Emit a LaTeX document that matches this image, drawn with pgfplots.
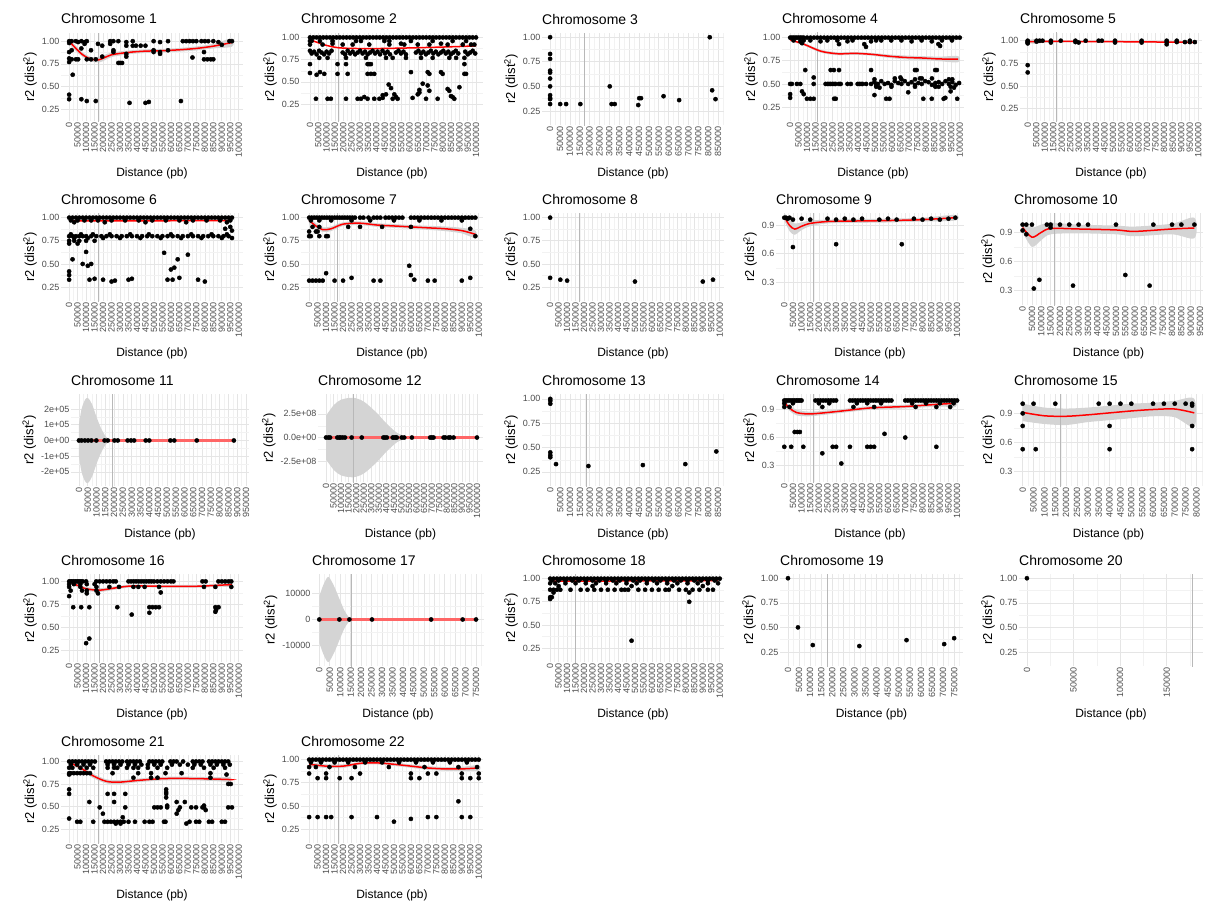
\documentclass[border=0pt]{standalone}
\usepackage{fontspec}
\setmainfont{Liberation Sans}
\usepackage{pgfplots}
\pgfplotsset{compat=1.18}

\newcommand\tickfont{\fontsize{9}{10}\selectfont}
\newcommand\labfont{\fontsize{12}{14}\selectfont}
\newcommand\ylabfont{\fontsize{13}{15}\selectfont}
\newcommand\chrtitle[1]{{\fontsize{14}{16}\selectfont Chromosome #1}}

\pgfplotsset{
  chr/.style={
    scale only axis, anchor=north west,
    width=182pt,
    axis line style={draw=none},
    tick style={draw=none},
    grid=both,
    major grid style={draw=black!10, line width=0.6pt},
    minor grid style={draw=black!5, line width=0.4pt},
    minor x tick num=1, minor y tick num=1,
    xtick={0,50000,100000,150000,200000,250000,300000,350000,400000,450000,500000,550000,600000,650000,700000,750000,800000,850000,900000,950000,1000000},
    scaled x ticks=false, scaled y ticks=false,
    x tick label style={rotate=90, anchor=east, font=\tickfont, text=black!70, inner sep=1.5pt,
      /pgf/number format/.cd, fixed, precision=0, 1000 sep={}, assume math mode=true},
    y tick label style={font=\tickfont, text=black!70, inner sep=1.5pt},
    every axis title shift=0pt,
    title style={at={(axis description cs:0,1)}, anchor=base west, inner sep=0pt, yshift=9pt},
    xlabel={Distance (pb)},
    ylabel={r2 (dist\textsuperscript{2})},
    xlabel style={at={(axis description cs:0.5,0)}, anchor=center, font=\labfont},
    ylabel style={font=\ylabfont},
  },
  h88/.style={height=88pt, xlabel style={yshift=-52pt}},
  h92/.style={height=92pt, xlabel style={yshift=-48pt}},
  std/.style={ytick={0.25,0.5,0.75,1}, yticklabels={0.25,0.50,0.75,1.00}},
  nine/.style={ytick={0.3,0.6,0.9}, yticklabels={0.3,0.6,0.9}},
  pts/.style={only marks, mark=*, mark size=2.1pt, black},
  fit/.style={red, line width=1.5pt, smooth, no marks},
  fitflat/.style={red!60, line width=2.4pt, no marks},
  band/.style={fill=black!17, draw=none, smooth, no marks},
  vl/.style={black!28, line width=0.8pt, no marks},
}

\begin{document}
\begin{tikzpicture}
\useasboundingbox (0,0) rectangle (1213pt,-902pt);

% ---------------- row 1 ----------------
\begin{axis}[chr, h88, std, at={(61pt,-33pt)}, xmin=-48000, xmax=1025000, ymin=0.12, ymax=1.09, title={\chrtitle{1}}]
\addplot[band] coordinates {(0,1.035)(40000,0.95)(80000,0.875)(130000,0.825)(176000,0.825)(210000,0.85)(250000,0.875)(300000,0.888)(370000,0.90)(450000,0.91)(550000,0.915)(650000,0.925)(750000,0.942)(850000,0.97)(960000,1.03)
 (960000,0.94)(850000,0.92)(750000,0.898)(650000,0.885)(550000,0.875)(450000,0.87)(370000,0.86)(300000,0.842)(250000,0.825)(210000,0.79)(176000,0.765)(130000,0.775)(80000,0.825)(40000,0.89)(0,0.965)};
\addplot[vl] coordinates {(172000,-1)(172000,2)};
\addplot[pts] coordinates {(0,1.0)(0,0.98)(0,0.88)(0,0.81)(0,0.77)(0,0.41)(0,0.36)(15000,1.0)(15000,0.90)(15000,0.80)(21000,0.63)(40000,1.0)(40000,0.80)(53000,0.99)(53000,0.80)(72000,1.0)(72000,0.92)(72000,0.36)(91000,0.99)(91000,0.97)(104000,1.0)(104000,0.80)(104000,0.34)(129000,0.90)(129000,0.80)(157000,0.80)(157000,0.34)(170000,0.97)(195000,0.95)(195000,0.83)(242000,1.0)(242000,0.97)(261000,1.0)(261000,0.90)(261000,0.88)(290000,1.0)(290000,0.76)(300000,0.76)(312000,0.76)(337000,0.99)(337000,0.95)(337000,0.86)(337000,0.83)(356000,0.32)(375000,1.0)(375000,0.95)(394000,0.95)(422000,0.95)(450000,0.95)(450000,0.32)(470000,0.33)(498000,1.0)(498000,0.90)(498000,0.88)(536000,0.99)(536000,0.88)(536000,0.86)(583000,1.0)(583000,0.90)(659000,0.34)(670000,1.0)(690000,1.0)(710000,1.0)(730000,1.0)(750000,1.0)(727000,0.82)(780000,1.0)(800000,1.0)(820000,1.0)(795000,0.88)(795000,0.80)(815000,0.80)(835000,0.80)(850000,0.80)(850000,1.0)(880000,0.99)(900000,0.96)(945000,1.0)(960000,1.0)};
\addplot[fit] coordinates {(0,1.0)(40000,0.92)(80000,0.85)(130000,0.80)(176000,0.795)(210000,0.82)(250000,0.85)(300000,0.865)(370000,0.88)(450000,0.89)(550000,0.895)(650000,0.905)(750000,0.92)(850000,0.945)(960000,0.985)};
\end{axis}

\begin{axis}[chr, h88, std, at={(301pt,-33pt)}, xmin=-54000, xmax=1042000, ymin=0.06, ymax=1.05, title={\chrtitle{2}}]
\addplot[vl] coordinates {(171000,-1)(171000,2)};
\addplot[pts] coordinates {(0,1)(20000,1)(40000,1)(60000,1)(80000,1)(100000,1)(120000,1)(140000,1)(160000,1)(180000,1)(200000,1)(220000,1)(240000,1)(260000,1)(280000,1)(300000,1)(320000,1)(340000,1)(360000,1)(380000,1)(400000,1)(420000,1)(440000,1)(460000,1)(480000,1)(500000,1)(520000,1)(540000,1)(560000,1)(580000,1)(600000,1)(620000,1)(640000,1)(660000,1)(680000,1)(700000,1)(720000,1)(740000,1)(760000,1)(780000,1)(800000,1)(820000,1)(840000,1)(860000,1)(880000,1)(900000,1)(920000,1)(940000,1)(960000,1)(980000,1)(1000000,1)
(0,0.96)(10000,0.96)(60000,0.96)(136000,0.96)(277000,0.96)(307000,0.96)(448000,0.96)(478000,0.96)(608000,0.96)(739000,0.96)(859000,0.96)(940000,0.96)
(0,0.92)(76000,0.92)(136000,0.93)(197000,0.92)(257000,0.92)(357000,0.92)(478000,0.92)(548000,0.93)(568000,0.92)(649000,0.92)(719000,0.92)(789000,0.93)(829000,0.92)(920000,0.92)(970000,0.92)(990000,0.92)
(0,0.85)(10000,0.82)(25000,0.84)(40000,0.81)(55000,0.85)(70000,0.83)(85000,0.81)(100000,0.84)(115000,0.82)(130000,0.85)(197000,0.83)(212000,0.81)(227000,0.85)(242000,0.82)(257000,0.84)(272000,0.81)(287000,0.83)(302000,0.85)(317000,0.82)(332000,0.84)(347000,0.81)(362000,0.83)(377000,0.85)(392000,0.82)(407000,0.84)(422000,0.81)(437000,0.85)(452000,0.82)(467000,0.84)(482000,0.81)(518000,0.83)(533000,0.85)(548000,0.82)(563000,0.84)(578000,0.81)(638000,0.83)(653000,0.85)(668000,0.82)(683000,0.84)(698000,0.81)(713000,0.83)(728000,0.85)(743000,0.82)(758000,0.84)(773000,0.81)(788000,0.83)(803000,0.85)(818000,0.82)(833000,0.84)(848000,0.81)(863000,0.83)(878000,0.85)(893000,0.82)(935000,0.84)(950000,0.81)(965000,0.83)(980000,0.85)(995000,0.82)
(56000,0.77)(106000,0.77)(217000,0.77)(337000,0.77)(458000,0.77)(498000,0.77)(578000,0.77)(669000,0.77)(739000,0.77)(839000,0.77)(880000,0.77)(930000,0.77)
(0,0.70)(166000,0.70)(217000,0.70)(347000,0.70)(357000,0.70)(367000,0.70)(930000,0.70)
(0,0.60)(40000,0.58)(60000,0.61)(86000,0.59)(166000,0.59)(227000,0.59)(347000,0.59)(367000,0.59)(387000,0.59)(608000,0.61)(709000,0.61)(719000,0.59)(789000,0.61)(799000,0.59)(930000,0.59)(940000,0.59)
(474000,0.47)(488000,0.43)(679000,0.48)(659000,0.41)(709000,0.46)(719000,0.40)(829000,0.42)(839000,0.40)(900000,0.44)
(438000,0.35)(458000,0.36)(508000,0.36)(518000,0.33)(649000,0.36)(659000,0.38)(849000,0.34)(859000,0.33)
(36000,0.31)(106000,0.31)(126000,0.31)(217000,0.31)(287000,0.31)(307000,0.31)(327000,0.33)(347000,0.31)(387000,0.31)(418000,0.31)(438000,0.32)(498000,0.31)(528000,0.31)(618000,0.32)(699000,0.31)(769000,0.31)(869000,0.31)};
\addplot[fit] coordinates {(0,0.975)(50000,0.94)(100000,0.91)(150000,0.89)(200000,0.88)(300000,0.875)(400000,0.875)(500000,0.878)(600000,0.882)(700000,0.887)(800000,0.892)(900000,0.898)(1000000,0.905)};
\end{axis}

\begin{axis}[chr, h92, std, at={(542pt,-33pt)}, xmin=-41000, xmax=880000, ymin=0.107, ymax=1.043, title={\chrtitle{3}}]
\addplot[vl] coordinates {(175000,-1)(175000,2)};
\addplot[pts] coordinates {(0,1.0)(0,0.83)(0,0.78)(0,0.66)(0,0.64)(0,0.58)(0,0.50)(0,0.41)(0,0.38)(0,0.37)(0,0.32)(51000,0.32)(81000,0.32)(153000,0.32)(302000,0.50)(311000,0.32)(327000,0.32)(446000,0.31)(451000,0.38)(460000,0.38)(574000,0.40)(653000,0.36)(808000,1.0)(820000,0.46)(837000,0.37)};
\end{axis}

\begin{axis}[chr, h88, std, at={(782pt,-33pt)}, xmin=-48000, xmax=1025000, ymin=0.1, ymax=1.05, title={\chrtitle{4}}]
\addplot[band] coordinates {(0,0.99)(80000,0.945)(180000,0.87)(280000,0.842)(380000,0.845)(480000,0.835)(580000,0.818)(680000,0.807)(780000,0.80)(880000,0.795)(990000,0.80)
 (990000,0.735)(880000,0.745)(780000,0.76)(680000,0.765)(580000,0.782)(480000,0.805)(380000,0.815)(280000,0.81)(180000,0.838)(80000,0.915)(0,0.96)};
\addplot[vl] coordinates {(159000,-1)(159000,2)};
\addplot[pts] coordinates {(0,1)(10000,1)(20000,1)(30000,1)(40000,1)(50000,1)(60000,1)(70000,1)(80000,1)(100000,1)(120000,1)(140000,1)(160000,1)(180000,1)(200000,1)(220000,1)(240000,1)(260000,1)(280000,1)(300000,1)(320000,1)(340000,1)(360000,1)(380000,1)(400000,1)(420000,1)(440000,1)(460000,1)(480000,1)(500000,1)(520000,1)(540000,1)(560000,1)(580000,1)(600000,1)(620000,1)(640000,1)(660000,1)(680000,1)(700000,1)(720000,1)(740000,1)(760000,1)(780000,1)(800000,1)(820000,1)(840000,1)(860000,1)(880000,1)(900000,1)(920000,1)(940000,1)(960000,1)(980000,1)(1000000,1)
(20000,0.97)(60000,0.96)(80000,0.97)(119000,0.97)(179000,0.96)(219000,0.97)(278000,0.97)(338000,0.96)(368000,0.97)(477000,0.96)(507000,0.97)(537000,0.97)(596000,0.97)(656000,0.97)(716000,0.96)(775000,0.97)(835000,0.96)(895000,0.97)(954000,0.97)
(70000,0.94)(288000,0.93)(437000,0.93)(447000,0.90)(874000,0.93)(884000,0.91)
(89000,0.65)(239000,0.65)(258000,0.65)(288000,0.65)(477000,0.65)(736000,0.65)(746000,0.65)(855000,0.65)(865000,0.65)
(139000,0.57)(650000,0.57)(765000,0.56)
(0,0.5)(10000,0.5)(40000,0.5)(60000,0.5)(139000,0.5)(209000,0.5)(219000,0.5)(229000,0.5)(239000,0.5)(249000,0.5)(259000,0.5)(269000,0.5)(288000,0.5)(298000,0.5)(338000,0.5)(358000,0.5)(398000,0.5)(408000,0.5)(418000,0.5)(428000,0.5)(448000,0.5)(477000,0.5)(497000,0.52)(507000,0.49)(517000,0.5)(537000,0.53)(557000,0.5)(577000,0.51)(597000,0.49)(617000,0.53)(637000,0.51)(656000,0.5)(676000,0.53)(696000,0.5)(716000,0.52)(736000,0.49)(756000,0.51)(776000,0.5)(796000,0.53)(816000,0.52)(836000,0.49)(856000,0.51)(876000,0.52)(896000,0.5)(916000,0.53)(936000,0.5)(956000,0.52)(976000,0.49)(996000,0.51)
(497000,0.55)(617000,0.56)(656000,0.55)(736000,0.55)(776000,0.56)(836000,0.56)(936000,0.55)(956000,0.55)
(507000,0.47)(527000,0.46)(597000,0.47)(736000,0.47)(856000,0.47)(876000,0.47)(946000,0.47)(966000,0.46)
(70000,0.42)(80000,0.39)(497000,0.38)(696000,0.41)(946000,0.42)(0,0.39)
(0,0.35)(99000,0.34)(119000,0.34)(139000,0.34)(259000,0.34)(269000,0.34)(566000,0.34)(586000,0.34)(785000,0.34)(835000,0.34)(905000,0.34)(915000,0.35)(985000,0.34)};
\addplot[fit] coordinates {(0,0.976)(80000,0.93)(180000,0.854)(280000,0.826)(380000,0.83)(480000,0.82)(580000,0.80)(680000,0.786)(780000,0.78)(880000,0.77)(990000,0.767)};
\end{axis}

\begin{axis}[chr, h88, std, at={(1020pt,-33pt)}, xmin=-45000, xmax=1022000, ymin=0.114, ymax=1.085, title={\chrtitle{5}}]
\addplot[band] coordinates {(0,1.005)(50000,1.02)(100000,1.005)(300000,0.999)(500000,0.997)(700000,0.996)(850000,0.995)(980000,0.994)
 (980000,0.970)(850000,0.975)(700000,0.98)(500000,0.983)(300000,0.985)(100000,0.978)(50000,0.965)(0,0.975)};
\addplot[vl] coordinates {(169000,-1)(169000,2)};
\addplot[pts] coordinates {(0,1.0)(0,0.99)(0,0.98)(0,0.97)(0,0.73)(0,0.65)(52000,1.0)(52000,0.99)(70000,1.0)(87000,1.0)(136000,1.0)(136000,0.98)(194000,1.0)(280000,1.0)(280000,0.985)(299000,0.98)(340000,1.0)(416000,1.0)(435000,1.0)(512000,1.0)(512000,0.98)(668000,1.0)(668000,0.98)(815000,1.0)(815000,0.985)(815000,0.96)(874000,1.0)(874000,0.985)(922000,0.985)(951000,1.0)(951000,0.985)(980000,0.985)};
\addplot[fit] coordinates {(0,0.99)(200000,0.992)(400000,0.99)(600000,0.988)(800000,0.985)(980000,0.982)};
\end{axis}

% ---------------- row 2 ----------------
\begin{axis}[chr, h88, std, at={(61pt,-213pt)}, xmin=-48000, xmax=1025000, ymin=0.1, ymax=1.05, title={\chrtitle{6}}]
\addplot[vl] coordinates {(170000,-1)(170000,2)};
\addplot[pts] coordinates {(0,1)(20000,1)(40000,1)(60000,1)(80000,1)(100000,1)(120000,1)(140000,1)(160000,1)(180000,1)(200000,1)(220000,1)(240000,1)(260000,1)(280000,1)(300000,1)(320000,1)(340000,1)(360000,1)(380000,1)(400000,1)(420000,1)(440000,1)(460000,1)(480000,1)(500000,1)(520000,1)(540000,1)(560000,1)(580000,1)(600000,1)(620000,1)(640000,1)(660000,1)(680000,1)(700000,1)(720000,1)(740000,1)(760000,1)(780000,1)(800000,1)(820000,1)(840000,1)(860000,1)(880000,1)(900000,1)(920000,1)(940000,1)(960000,1)
(10000,0.97)(50000,0.97)(90000,0.97)(130000,0.97)(170000,0.97)(250000,0.97)(330000,0.97)(410000,0.97)(490000,0.97)(570000,0.97)(650000,0.97)(730000,0.97)(810000,0.97)(890000,0.97)(950000,0.97)
(30000,0.95)(210000,0.95)(450000,0.95)(690000,0.95)(930000,0.95)
(0,0.80)(20000,0.80)(40000,0.80)(60000,0.80)(80000,0.80)(100000,0.80)(130000,0.80)(160000,0.80)(190000,0.80)(220000,0.80)(250000,0.80)(280000,0.80)(310000,0.80)(340000,0.80)(370000,0.80)(400000,0.80)(430000,0.80)(460000,0.80)(490000,0.80)(520000,0.80)(550000,0.80)(580000,0.80)(610000,0.80)(640000,0.80)(670000,0.80)(700000,0.80)(730000,0.80)(760000,0.80)(790000,0.80)(820000,0.80)(850000,0.80)(880000,0.80)(910000,0.80)(940000,0.80)
(10000,0.82)(70000,0.82)(140000,0.82)(240000,0.82)(360000,0.82)(470000,0.82)(600000,0.82)(720000,0.82)(840000,0.82)(930000,0.82)
(30000,0.78)(110000,0.78)(200000,0.78)(300000,0.78)(420000,0.78)(540000,0.78)(660000,0.78)(780000,0.78)(900000,0.78)(960000,0.78)
(0,0.75)(30000,0.75)(60000,0.75)(100000,0.75)(150000,0.75)(0,0.72)(50000,0.72)(920000,0.88)(950000,0.90)(960000,0.86)
(0,0.42)(0,0.38)(0,0.33)(20000,0.55)(80000,0.50)(100000,0.63)(110000,0.48)(130000,0.50)(120000,0.33)(150000,0.34)(200000,0.33)(250000,0.31)(270000,0.32)(350000,0.33)(370000,0.34)(560000,0.62)(580000,0.33)(600000,0.44)(610000,0.33)(620000,0.46)(640000,0.55)(650000,0.35)(700000,0.60)(760000,0.33)(800000,0.31)};
\addplot[fit] coordinates {(0,0.965)(500000,0.966)(960000,0.968)};
\end{axis}

\begin{axis}[chr, h88, std, at={(301pt,-213pt)}, xmin=-48000, xmax=1025000, ymin=0.1, ymax=1.05, title={\chrtitle{7}}]
\addplot[band] coordinates {(0,1.01)(40000,0.94)(80000,0.895)(130000,0.905)(200000,0.95)(300000,0.96)(400000,0.94)(500000,0.93)(600000,0.92)(700000,0.912)(800000,0.905)(900000,0.89)(980000,0.86)
 (980000,0.78)(900000,0.83)(800000,0.855)(700000,0.868)(600000,0.88)(500000,0.89)(400000,0.90)(300000,0.92)(200000,0.91)(130000,0.855)(80000,0.845)(40000,0.88)(0,0.93)};
\addplot[vl] coordinates {(165000,-1)(165000,2)};
\addplot[pts] coordinates {(0,1)(15000,1)(30000,1)(45000,1)(60000,1)(75000,1)(90000,1)(105000,1)(120000,1)(135000,1)(150000,1)(165000,1)(180000,1)(195000,1)(210000,1)(225000,1)(240000,1)(255000,1)(270000,1)(300000,1)(320000,1)(350000,1)(380000,1)(400000,1)(420000,1)(450000,1)(470000,1)(490000,1)(510000,1)(530000,1)(550000,1)(600000,1)(620000,1)(640000,1)(660000,1)(680000,1)(700000,1)(720000,1)(740000,1)(760000,1)(780000,1)(800000,1)(820000,1)(840000,1)(860000,1)(880000,1)(900000,1)(920000,1)(940000,1)(960000,1)(980000,1)
(10000,0.97)(60000,0.97)(130000,0.97)(250000,0.97)(360000,0.97)(500000,0.97)(650000,0.97)(780000,0.97)(900000,0.97)
(20000,0.90)(60000,0.90)(230000,0.90)(300000,0.90)(430000,0.90)(600000,0.90)(950000,0.88)
(0,0.85)(40000,0.85)(50000,0.85)(0,0.80)(10000,0.80)(60000,0.80)(100000,0.80)(110000,0.80)(980000,0.80)
(100000,0.40)(0,0.32)(20000,0.32)(40000,0.32)(60000,0.32)(80000,0.32)(150000,0.32)(200000,0.32)(250000,0.35)(380000,0.32)(420000,0.32)(590000,0.48)(600000,0.38)(620000,0.33)(700000,0.32)(740000,0.32)(900000,0.32)(950000,0.35)};
\addplot[fit] coordinates {(0,0.97)(40000,0.91)(80000,0.87)(130000,0.88)(200000,0.93)(300000,0.94)(400000,0.92)(500000,0.91)(600000,0.90)(700000,0.89)(800000,0.88)(900000,0.86)(980000,0.82)};
\end{axis}

\begin{axis}[chr, h88, std, at={(542pt,-213pt)}, xmin=-48000, xmax=1025000, ymin=0.1, ymax=1.05, title={\chrtitle{8}}]
\addplot[vl] coordinates {(172000,-1)(172000,2)};
\addplot[pts] coordinates {(0,1.0)(0,0.35)(60000,0.33)(100000,0.32)(500000,0.31)(900000,0.31)(960000,0.33)};
\end{axis}

\begin{axis}[chr, h88, nine, width=188pt, at={(776pt,-213pt)}, xmin=-48000, xmax=1040000, ymin=0.1, ymax=1.03, title={\chrtitle{9}}]
\addplot[band] coordinates {(0,1.03)(30000,0.96)(60000,0.92)(100000,0.93)(150000,0.95)(250000,0.96)(400000,0.965)(600000,0.97)(800000,0.98)(990000,1.01)
 (990000,0.95)(800000,0.94)(600000,0.93)(400000,0.925)(250000,0.92)(150000,0.89)(100000,0.85)(60000,0.80)(30000,0.84)(0,0.95)};
\addplot[vl] coordinates {(170000,-1)(170000,2)};
\addplot[pts] coordinates {(0,0.98)(10000,0.98)(20000,0.97)(30000,0.98)(50000,0.96)(50000,0.67)(100000,0.97)(150000,0.96)(250000,0.97)(300000,0.96)(300000,0.70)(350000,0.97)(400000,0.96)(450000,0.97)(550000,0.96)(600000,0.97)(650000,0.96)(680000,0.70)(750000,0.97)(800000,0.96)(850000,0.97)(900000,0.96)(950000,0.97)(990000,0.98)};
\addplot[fit] coordinates {(0,0.99)(30000,0.90)(60000,0.86)(100000,0.89)(150000,0.92)(250000,0.94)(400000,0.945)(600000,0.95)(800000,0.96)(990000,0.98)};
\end{axis}

\begin{axis}[chr, h92, nine, width=189pt, at={(1014pt,-213pt)}, xmin=-46000, xmax=966000, ymin=0.15, ymax=1.1, title={\chrtitle{10}}]
\addplot[band] coordinates {(0,1.0)(50000,0.95)(100000,0.98)(150000,1.0)(300000,0.98)(500000,0.97)(600000,0.96)(800000,0.99)(920000,1.05)
 (920000,0.84)(800000,0.88)(600000,0.86)(500000,0.88)(300000,0.89)(150000,0.88)(100000,0.82)(50000,0.75)(0,0.90)};
\addplot[vl] coordinates {(168000,-1)(168000,2)};
\addplot[pts] coordinates {(0,0.98)(20000,0.98)(50000,0.98)(130000,0.98)(150000,0.98)(200000,0.98)(250000,0.98)(300000,0.98)(350000,0.98)(500000,0.98)(700000,0.98)(800000,0.98)(850000,0.98)(920000,0.98)(0,0.92)(20000,0.88)(60000,0.32)(90000,0.41)(150000,0.95)(270000,0.35)(550000,0.46)(680000,0.35)};
\addplot[fit] coordinates {(0,0.95)(50000,0.85)(100000,0.90)(150000,0.94)(300000,0.935)(500000,0.925)(600000,0.91)(800000,0.935)(920000,0.945)};
\end{axis}

% ---------------- row 3 ----------------
\begin{axis}[chr, h92, width=178pt, at={(71pt,-394pt)}, xmin=-45000, xmax=967000, ymin=-290000, ymax=296000,
  ytick={-200000,-100000,0,100000,200000}, yticklabels={-2e+05,-1e+05,0e+00,1e+05,2e+05}, title={\chrtitle{11}}]
\addplot[band] coordinates {(0,100000)(15000,200000)(35000,260000)(52000,270000)(75000,230000)(100000,150000)(125000,80000)(150000,30000)(175000,5000)(200000,0)
 (175000,-5000)(150000,-30000)(125000,-80000)(100000,-150000)(75000,-230000)(52000,-270000)(35000,-260000)(15000,-200000)(0,-100000)};
\addplot[vl] coordinates {(189000,-1000000)(189000,1000000)};
\addplot[fitflat] coordinates {(0,0)(881000,0)};
\addplot[pts] coordinates {(0,1)(15000,0.9)(34000,1)(52000,0.8)(71000,1)(99000,1)(146000,0.9)(164000,1)(202000,1)(221000,0.7)(277000,1)(296000,1)(314000,0.9)(380000,1)(400000,1)(520000,1)(542000,0.8)(670000,1)(881000,1)};
\end{axis}

\begin{axis}[chr, h88, width=165pt, at={(318pt,-394pt)}, xmin=-53000, xmax=1040000, ymin=-470000000, ymax=460000000,
  ytick={-250000000,0,250000000}, yticklabels={-2.5e+08,0.0e+00,2.5e+08}, title={\chrtitle{12}}]
\addplot[band] coordinates {(0,230000000)(50000,340000000)(100000,400000000)(180000,420000000)(250000,380000000)(330000,270000000)(400000,150000000)(470000,50000000)(535000,0)
 (470000,-50000000)(400000,-150000000)(330000,-270000000)(250000,-380000000)(180000,-420000000)(100000,-400000000)(50000,-340000000)(0,-230000000)};
\addplot[vl] coordinates {(179000,-1000000000)(179000,1000000000)};
\addplot[fitflat] coordinates {(0,0)(1000000,0)};
\addplot[pts] coordinates {(0,1)(15000,1)(27000,1)(75000,1)(88000,1)(97000,1)(111000,1)(126000,1)(170000,1)(237000,1)(380000,1)(391000,1)(403000,1)(442000,1)(451000,1)(462000,1)(469000,1)(502000,1)(518000,1)(569000,1)(690000,1)(701000,1)(712000,1)(779000,1)(790000,1)(812000,1)(823000,1)(845000,1)(1000000,1)};
\end{axis}

\begin{axis}[chr, h92, std, at={(542pt,-394pt)}, xmin=-42000, xmax=880000, ymin=0.105, ymax=1.05, title={\chrtitle{13}}]
\addplot[vl] coordinates {(181000,-1)(181000,2)};
\addplot[pts] coordinates {(0,1.0)(0,0.98)(0,0.95)(0,0.45)(0,0.42)(0,0.40)(29000,0.33)(193000,0.31)(469000,0.32)(684000,0.33)(841000,0.46)};
\end{axis}

\begin{axis}[chr, h88, nine, width=188pt, at={(776pt,-394pt)}, xmin=-48000, xmax=1040000, ymin=0.12, ymax=1.07, title={\chrtitle{14}}]
\addplot[band] coordinates {(0,1.01)(30000,0.95)(70000,0.90)(150000,0.88)(300000,0.90)(500000,0.94)(700000,0.955)(900000,0.985)(990000,1.01)
 (990000,0.93)(900000,0.935)(700000,0.915)(500000,0.90)(300000,0.86)(150000,0.83)(70000,0.84)(30000,0.89)(0,0.95)};
\addplot[vl] coordinates {(170000,-1)(170000,2)};
\addplot[pts] coordinates {(0,1)(10000,1)(20000,1)(30000,1)(40000,1)(50000,1)(60000,1)(70000,1)(80000,1)(90000,1)(100000,1)(180000,1)(195000,1)(210000,1)(225000,1)(240000,1)(255000,1)(270000,1)(285000,1)(300000,1)(380000,1)(395000,1)(410000,1)(425000,1)(440000,1)(455000,1)(470000,1)(485000,1)(500000,1)(515000,1)(530000,1)(545000,1)(560000,1)(575000,1)(590000,1)(605000,1)(620000,1)(700000,1)(715000,1)(730000,1)(745000,1)(760000,1)(775000,1)(790000,1)(805000,1)(820000,1)(835000,1)(850000,1)(865000,1)(880000,1)(895000,1)(910000,1)(925000,1)(940000,1)(955000,1)(970000,1)(985000,1)(1000000,1)
(0,0.97)(50000,0.97)(200000,0.97)(260000,0.97)(420000,0.97)(480000,0.97)(560000,0.97)(740000,0.97)(820000,0.97)(900000,0.97)(980000,0.97)
(0,0.93)(30000,0.93)(220000,0.93)(400000,0.93)(520000,0.93)(760000,0.93)(880000,0.93)(960000,0.93)
(60000,0.66)(75000,0.66)(90000,0.66)(580000,0.64)(700000,0.60)
(0,0.50)(40000,0.50)(110000,0.50)(280000,0.50)(300000,0.50)(380000,0.50)(480000,0.50)(500000,0.50)(520000,0.50)(880000,0.50)(220000,0.43)(330000,0.32)};
\addplot[fit] coordinates {(0,0.98)(30000,0.92)(70000,0.87)(150000,0.855)(300000,0.88)(500000,0.92)(700000,0.935)(900000,0.96)(990000,0.97)};
\end{axis}

\begin{axis}[chr, h92, nine, width=189pt, at={(1014pt,-394pt)}, xmin=-40000, xmax=830000, ymin=0.15, ymax=1.1, title={\chrtitle{15}}]
\addplot[band] coordinates {(0,1.0)(100000,0.96)(200000,0.95)(300000,0.96)(400000,0.98)(500000,1.0)(600000,1.01)(700000,1.03)(790000,1.05)
 (790000,0.76)(700000,0.86)(600000,0.87)(500000,0.85)(400000,0.83)(300000,0.81)(200000,0.78)(100000,0.79)(0,0.82)};
\addplot[vl] coordinates {(172000,-1)(172000,2)};
\addplot[pts] coordinates {(0,1.0)(0,0.90)(0,0.77)(0,0.53)(60000,0.53)(50000,1.0)(150000,1.0)(350000,1.0)(400000,1.0)(400000,0.77)(400000,0.53)(450000,1.0)(500000,1.0)(600000,1.0)(650000,1.0)(700000,1.0)(750000,1.0)(780000,1.0)(780000,0.98)(780000,0.77)(780000,0.53)};
\addplot[fit] coordinates {(0,0.91)(100000,0.875)(200000,0.87)(300000,0.885)(400000,0.905)(500000,0.925)(600000,0.94)(700000,0.945)(790000,0.905)};
\end{axis}

% ---------------- row 4 ----------------
\begin{axis}[chr, h88, std, at={(61pt,-574pt)}, xmin=-48000, xmax=1025000, ymin=0.126, ymax=1.08, title={\chrtitle{16}}]
\addplot[band] coordinates {(0,1.025)(45000,0.98)(100000,0.94)(180000,0.925)(275000,0.948)(370000,0.965)(550000,0.962)(750000,0.962)(900000,0.978)(960000,0.988)
 (960000,0.942)(900000,0.942)(750000,0.932)(550000,0.932)(370000,0.935)(275000,0.912)(180000,0.885)(100000,0.90)(45000,0.94)(0,0.975)};
\addplot[vl] coordinates {(176000,-1)(176000,2)};
\addplot[pts] coordinates {(0,1)(10000,1)(20000,1)(30000,1)(40000,1)(50000,1)(60000,1)(70000,1)(80000,1)(100000,1)(160000,1)(180000,1)(200000,1)(220000,1)(240000,1)(260000,1)(275000,1)(350000,1)(365000,1)(380000,1)(395000,1)(410000,1)(425000,1)(440000,1)(455000,1)(470000,1)(485000,1)(500000,1)(520000,1)(540000,1)(560000,1)(580000,1)(600000,1)(615000,1)(786000,1)(805000,1)(880000,1)(900000,1)(920000,1)(940000,1)(956000,1)
(0,0.97)(28000,0.97)(66000,0.97)(104000,0.97)(150000,0.97)
(0,0.94)(66000,0.94)(161000,0.94)(237000,0.94)(294000,0.94)(379000,0.94)(408000,0.94)(445000,0.94)(530000,0.94)(795000,0.94)(862000,0.94)(956000,0.94)
(9000,0.90)(76000,0.90)(104000,0.90)(161000,0.90)(540000,0.88)(104000,0.87)(170000,0.87)(0,0.84)
(24000,0.72)(71000,0.72)(119000,0.72)(284000,0.72)(473000,0.72)(492000,0.72)(511000,0.72)(530000,0.72)(862000,0.72)(881000,0.72)
(473000,0.66)(862000,0.67)(369000,0.64)(866000,0.69)(119000,0.38)(100000,0.33)};
\addplot[fit] coordinates {(0,1.0)(45000,0.96)(100000,0.92)(180000,0.905)(275000,0.93)(370000,0.95)(550000,0.947)(750000,0.947)(900000,0.96)(960000,0.965)};
\end{axis}

\begin{axis}[chr, h92, width=172pt, at={(312pt,-574pt)}, xmin=-35000, xmax=788000, ymin=-18000, ymax=17600,
  ytick={-10000,0,10000}, yticklabels={-10000,0,10000}, title={\chrtitle{17}}]
\addplot[band] coordinates {(0,9000)(20000,13500)(43000,16500)(70000,13000)(96000,8000)(120000,3500)(140000,1000)(155000,0)
 (140000,-1000)(120000,-3500)(96000,-8000)(70000,-13000)(43000,-16500)(20000,-13500)(0,-9000)};
\addplot[vl] coordinates {(152000,-100000)(152000,100000)};
\addplot[fitflat] coordinates {(0,0)(750000,0)};
\addplot[pts] coordinates {(0,1)(96000,1)(144000,1)(252000,1)(535000,1)(686000,1)(750000,1)};
\end{axis}

\begin{axis}[chr, h88, std, at={(542pt,-574pt)}, xmin=-48000, xmax=1025000, ymin=0.1, ymax=1.05, title={\chrtitle{18}}]
\addplot[vl] coordinates {(150000,-1)(150000,2)};
\addplot[pts] coordinates {(0,1)(20000,1)(40000,1)(60000,1)(80000,1)(100000,1)(120000,1)(140000,1)(160000,1)(180000,1)(200000,1)(220000,1)(240000,1)(260000,1)(280000,1)(300000,1)(320000,1)(340000,1)(360000,1)(380000,1)(400000,1)(420000,1)(440000,1)(460000,1)(480000,1)(500000,1)(520000,1)(540000,1)(560000,1)(580000,1)(600000,1)(620000,1)(640000,1)(660000,1)(680000,1)(700000,1)(720000,1)(740000,1)(760000,1)(780000,1)(800000,1)(820000,1)(840000,1)(860000,1)(880000,1)(900000,1)(920000,1)(940000,1)(960000,1)(980000,1)(1000000,1)
(10000,0.98)(50000,0.98)(90000,0.98)(130000,0.98)(170000,0.98)(210000,0.98)(250000,0.98)(290000,0.98)(330000,0.98)(370000,0.98)(410000,0.98)(450000,0.98)(490000,0.98)(530000,0.98)(570000,0.98)(610000,0.98)(650000,0.98)(690000,0.98)(730000,0.98)(770000,0.98)(810000,0.98)(850000,0.98)(890000,0.98)(930000,0.98)(970000,0.98)
(0,0.95)(30000,0.95)(90000,0.95)(150000,0.95)(210000,0.95)(270000,0.95)(330000,0.95)(390000,0.95)(450000,0.95)(510000,0.95)(570000,0.95)(630000,0.95)(690000,0.95)(750000,0.95)(810000,0.95)(870000,0.95)(930000,0.95)(990000,0.95)
(0,0.88)(20000,0.88)(40000,0.88)(60000,0.88)(120000,0.88)(180000,0.88)(220000,0.88)(260000,0.88)(300000,0.88)(340000,0.88)(380000,0.88)(420000,0.88)(440000,0.88)(460000,0.88)(520000,0.88)(560000,0.88)(600000,0.88)(640000,0.88)(680000,0.88)(700000,0.88)(760000,0.88)(800000,0.88)(840000,0.88)(880000,0.88)(930000,0.88)(960000,0.88)
(50000,0.92)(250000,0.92)(480000,0.92)(720000,0.92)(900000,0.92)(0,0.80)(10000,0.80)(0,0.78)(20000,0.85)(820000,0.85)(820000,0.75)(480000,0.33)};
\addplot[fit] coordinates {(0,0.972)(500000,0.975)(990000,0.978)};
\end{axis}

\begin{axis}[chr, h92, std, width=183pt, at={(780pt,-574pt)}, xmin=-36000, xmax=790000, ymin=0.107, ymax=1.043, title={\chrtitle{19}}]
\addplot[vl] coordinates {(178000,-1)(178000,2)};
\addplot[pts] coordinates {(0,1.0)(45000,0.50)(112000,0.32)(322000,0.31)(535000,0.37)(705000,0.33)(750000,0.39)};
\end{axis}

\begin{axis}[chr, h92, std, width=184pt, at={(1019pt,-574pt)}, xmin=-8500, xmax=189000, ymin=0.107, ymax=1.043, title={\chrtitle{20}}]
\addplot[vl] coordinates {(178000,-1)(178000,2)};
\addplot[pts] coordinates {(0,1.0)};
\end{axis}

% ---------------- row 5 ----------------
\begin{axis}[chr, h88, std, at={(61pt,-755pt)}, xmin=-48000, xmax=1025000, ymin=0.094, ymax=1.072, title={\chrtitle{21}}]
\addplot[band] coordinates {(0,1.015)(66000,0.955)(142000,0.865)(218000,0.803)(294000,0.792)(407000,0.81)(559000,0.83)(748000,0.83)(938000,0.825)(953000,0.825)
 (953000,0.77)(938000,0.775)(748000,0.79)(559000,0.79)(407000,0.77)(294000,0.748)(218000,0.757)(142000,0.815)(66000,0.905)(0,0.965)};
\addplot[vl] coordinates {(170000,-1)(170000,2)};
\addplot[pts] coordinates {(0,1)(19000,1)(38000,1)(57000,1)(76000,1)(95000,1)(114000,1)(133000,1)(152000,1)(218000,1)(237000,1)(256000,1)(275000,1)(294000,1)(313000,1)(341000,1)(360000,1)(379000,1)(398000,1)(417000,1)(473000,1)(492000,1)(511000,1)(530000,1)(549000,1)(597000,1)(616000,1)(634000,1)(672000,1)(729000,1)(748000,1)(767000,1)(786000,1)(824000,1)(843000,1)(862000,1)(881000,1)(900000,1)(919000,1)(938000,1)
(10000,0.965)(47000,0.965)(85000,0.965)(123000,0.965)(227000,0.965)(265000,0.965)(303000,0.965)(350000,0.965)(388000,0.965)(426000,0.965)(464000,0.965)(502000,0.965)(540000,0.965)(606000,0.965)(653000,0.965)(700000,0.965)(738000,0.965)(776000,0.965)(833000,0.965)(871000,0.965)(909000,0.965)(947000,0.965)
(0,0.93)(19000,0.93)(66000,0.93)(104000,0.93)(142000,0.93)(227000,0.93)(265000,0.93)(284000,0.93)(341000,0.93)(379000,0.93)(407000,0.93)(464000,0.93)(521000,0.93)(578000,0.93)(729000,0.93)(795000,0.93)(852000,0.93)(919000,0.93)
(0,0.87)(10000,0.87)(28000,0.87)(47000,0.87)(66000,0.87)(85000,0.87)(104000,0.87)(123000,0.87)(256000,0.87)(407000,0.87)(483000,0.87)(568000,0.87)(663000,0.87)(833000,0.87)
(0,0.855)(928000,0.855)(379000,0.82)(483000,0.82)(521000,0.82)(833000,0.82)(938000,0.75)(953000,0.75)
(0,0.69)(572000,0.69)(0,0.64)(227000,0.64)(265000,0.64)(331000,0.64)(572000,0.64)(572000,0.66)(572000,0.60)
(119000,0.55)(265000,0.55)(634000,0.55)(682000,0.55)
(180000,0.49)(331000,0.49)(502000,0.49)(521000,0.49)(540000,0.49)(578000,0.49)(653000,0.49)(720000,0.49)(748000,0.49)(786000,0.49)(795000,0.49)(938000,0.49)(960000,0.49)(578000,0.51)(795000,0.51)(644000,0.46)(805000,0.46)
(199000,0.42)(634000,0.42)(316000,0.38)(0,0.366)
(47000,0.33)(66000,0.33)(142000,0.33)(208000,0.33)(227000,0.33)(246000,0.33)(265000,0.33)(284000,0.33)(303000,0.33)(322000,0.33)(350000,0.33)(388000,0.33)(445000,0.33)(473000,0.33)(492000,0.33)(559000,0.33)(568000,0.33)(710000,0.33)(748000,0.33)(767000,0.33)(824000,0.33)(843000,0.33)(900000,0.33)(919000,0.33)(275000,0.31)(303000,0.31)(691000,0.31)};
\addplot[fit] coordinates {(0,0.99)(66000,0.93)(142000,0.84)(218000,0.78)(294000,0.77)(407000,0.79)(559000,0.81)(748000,0.81)(938000,0.80)(953000,0.797)};
\end{axis}

\begin{axis}[chr, h88, std, at={(301pt,-755pt)}, xmin=-48000, xmax=1025000, ymin=0.1, ymax=1.05, title={\chrtitle{22}}]
\addplot[band] coordinates {(0,0.975)(100000,0.95)(200000,0.95)(300000,0.975)(400000,0.982)(500000,0.968)(600000,0.948)(700000,0.93)(800000,0.92)(900000,0.922)(1000000,0.94)
 (1000000,0.88)(900000,0.878)(800000,0.88)(700000,0.89)(600000,0.912)(500000,0.932)(400000,0.948)(300000,0.945)(200000,0.91)(100000,0.91)(0,0.925)};
\addplot[vl] coordinates {(172000,-1)(172000,2)};
\addplot[pts] coordinates {(0,1)(20000,1)(40000,1)(60000,1)(80000,1)(100000,1)(120000,1)(140000,1)(160000,1)(180000,1)(200000,1)(220000,1)(240000,1)(260000,1)(280000,1)(300000,1)(320000,1)(340000,1)(360000,1)(380000,1)(400000,1)(420000,1)(440000,1)(460000,1)(480000,1)(500000,1)(520000,1)(540000,1)(560000,1)(580000,1)(600000,1)(620000,1)(640000,1)(660000,1)(680000,1)(700000,1)(720000,1)(740000,1)(760000,1)(780000,1)(800000,1)(820000,1)(840000,1)(860000,1)(880000,1)(900000,1)(920000,1)(940000,1)(960000,1)(980000,1)(1000000,1)
(10000,0.97)(70000,0.97)(150000,0.97)(230000,0.97)(330000,0.97)(430000,0.97)(530000,0.97)(630000,0.97)(730000,0.97)(830000,0.97)(930000,0.97)
(0,0.92)(40000,0.92)(120000,0.92)(270000,0.92)(470000,0.92)(680000,0.92)(880000,0.92)(990000,0.92)
(0,0.85)(100000,0.85)(300000,0.85)(600000,0.85)(700000,0.85)(750000,0.85)(900000,0.85)(1000000,0.85)
(50000,0.80)(100000,0.80)(180000,0.80)(250000,0.80)(600000,0.80)(650000,0.80)(900000,0.80)(950000,0.80)(1000000,0.80)
(880000,0.55)(0,0.38)(50000,0.38)(100000,0.38)(130000,0.38)(250000,0.38)(400000,0.38)(700000,0.38)(750000,0.38)(900000,0.38)(950000,0.38)(500000,0.33)(600000,0.36)};
\addplot[fit] coordinates {(0,0.95)(100000,0.93)(200000,0.93)(300000,0.96)(400000,0.965)(500000,0.95)(600000,0.93)(700000,0.91)(800000,0.90)(900000,0.90)(1000000,0.91)};
\end{axis}

\end{tikzpicture}
\end{document}
